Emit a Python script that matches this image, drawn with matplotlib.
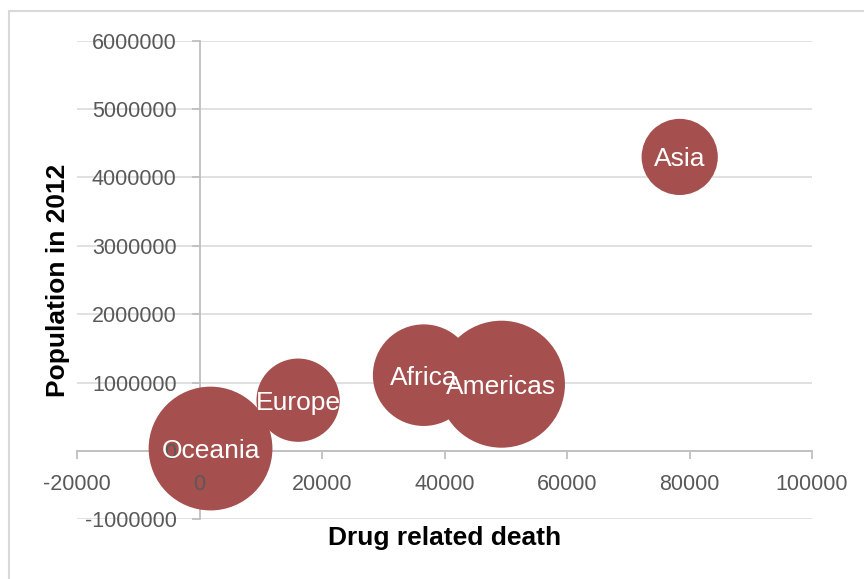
import numpy as np
import matplotlib
matplotlib.use("Agg")
import matplotlib.pyplot as plt
from matplotlib.patches import Rectangle

plt.rcParams["font.family"] = ["Liberation Sans", "DejaVu Sans"]

# data
regions     = ["Oceania", "Europe", "Africa", "Americas", "Asia"]
drug_deaths = [1800, 16100, 36600, 49300, 78400]
population  = [35000, 742000, 1108000, 976000, 4300000]
bubble_size = [95, 43, 64, 100, 36]   # relative bubble area

x_ticks = [-20000, 0, 20000, 40000, 60000, 80000, 100000]
y_ticks = [-1000000, 0, 1000000, 2000000, 3000000, 4000000, 5000000, 6000000]

BUBBLE = "#A5504E"
GRID   = "#D9D9D9"
AXIS   = "#BFBFBF"
TICKC  = "#595959"

W, H = 864, 579
fig = plt.figure(figsize=(W / 100, H / 100), dpi=100)
ax = fig.add_axes([77 / W, (H - 519.3) / H, (812 - 77) / W, (519.3 - 40.7) / H])

# chart border
fig.patches.append(Rectangle((9 / W, -0.05), 1.2, (H - 11) / H + 0.05,
                             transform=fig.transFigure, fill=False,
                             edgecolor=GRID, linewidth=1.5))

ax.set_xlim(x_ticks[0], x_ticks[-1])
ax.set_ylim(y_ticks[0], y_ticks[-1])

# gridlines below everything
for yv in y_ticks:
    ax.axhline(yv, color=GRID, linewidth=1.1, zorder=0)

# axes crossing at zero
for side in ["top", "right"]:
    ax.spines[side].set_visible(False)
ax.spines["left"].set_position(("data", 0))
ax.spines["bottom"].set_position(("data", 0))
for side in ["left", "bottom"]:
    ax.spines[side].set_color(AXIS)
    ax.spines[side].set_linewidth(1.3)
    ax.spines[side].set_zorder(1)

# tick marks (kept under the bubbles)
ax.plot(x_ticks, np.zeros(len(x_ticks)), linestyle="none", marker=3,
        markersize=5.5, markeredgewidth=1.3, color=AXIS, zorder=1, clip_on=False)
ax.plot(np.zeros(len(y_ticks)), y_ticks, linestyle="none", marker=0,
        markersize=5.5, markeredgewidth=1.3, color=AXIS, zorder=1, clip_on=False)

ax.set_xticks(x_ticks)
ax.set_xticklabels([str(v) for v in x_ticks])
ax.set_yticks(y_ticks)
ax.set_yticklabels([str(v) for v in y_ticks])
ax.tick_params(length=0, pad=16.5, labelsize=15.5, labelcolor=TICKC)
ax.xaxis.set_zorder(4)
ax.yaxis.set_zorder(4)

# bubbles: largest diameter ~127 px
max_d_pt = 127 * 0.72
sizes = [max_d_pt ** 2 * s / max(bubble_size) for s in bubble_size]
ax.scatter(drug_deaths, population, s=sizes, color=BUBBLE, linewidths=0,
           zorder=3, clip_on=False)

for name, xv, yv in zip(regions, drug_deaths, population):
    ax.text(xv, yv, name, ha="center", va="center_baseline", color="white",
            fontsize=19, zorder=6)

ax.set_xlabel("Drug related death", fontsize=19, fontweight="bold",
              va="baseline")
ax.xaxis.set_label_coords(0.5, -0.0537)
ax.set_ylabel("Population in 2012", fontsize=19, fontweight="bold",
              va="center")
ax.yaxis.set_label_coords(-0.026, 0.5)

ax.patch.set_visible(False)

fig.savefig("out.png", dpi=100)
